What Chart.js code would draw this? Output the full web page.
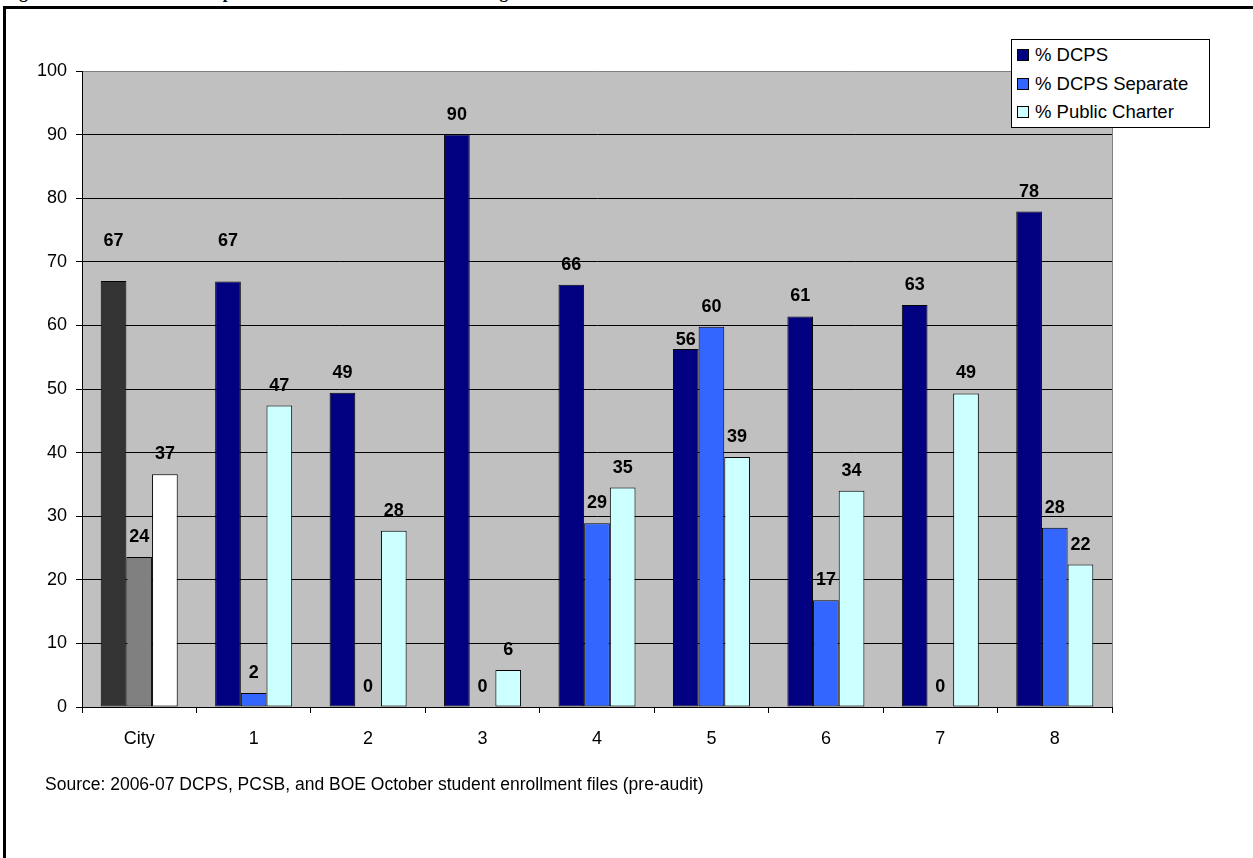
<!DOCTYPE html>
<html>
<head>
<meta charset="utf-8">
<title>Ward of Residence</title>
<script src="https://cdn.jsdelivr.net/npm/chart.js@4.4.1/dist/chart.umd.min.js"></script>
<style>
    body { margin: 0; background: #fff; width: 1253px; height: 858px; overflow: hidden; position: relative; }
    .title {
        position: absolute; left: 3px; top: -17px; white-space: nowrap;
        font: bold 17px "Liberation Serif", "Times New Roman", serif; letter-spacing: 0.6px;
    }
    .frame {
        position: absolute; left: 3px; top: 6px; width: 1400px; height: 1000px;
        border-left: 3px solid #000; border-top: 3px solid #000;
    }
    .chart-box { position: absolute; left: 0; top: 0; width: 1253px; height: 858px; }
    .legend {
        position: absolute; left: 1011px; top: 39px; width: 197px; height: 86px;
        border: 1px solid #000; background: #fff; padding-top: 1px;
        font: 18.5px "Liberation Sans", Arial, sans-serif;
    }
    .legend div { height: 28.5px; line-height: 28.5px; white-space: nowrap; }
    .legend span {
        display: inline-block; width: 10px; height: 10px; border: 1px solid #000;
        margin: 0 6px 0 5px; vertical-align: 0px;
    }
    .source {
        position: absolute; left: 45px; top: 774px;
        font: 17.5px "Liberation Sans", Arial, sans-serif;
    }
</style>
</head>
<body>
<div class="title">Figure 11: Share of Public Special Education Students Attending School in Their Ward of Residence, 2006-07</div>
<div class="frame"></div>
<div class="chart-box"><canvas id="myChart" width="1253" height="858"></canvas></div>
<div class="legend" id="legend"></div>
<div class="source">Source: 2006-07 DCPS, PCSB, and BOE October student enrollment files (pre-audit)</div>
<script>
    // data
    const wards = ["City", "1", "2", "3", "4", "5", "6", "7", "8"];
    const seriesNames = ["% DCPS", "% DCPS Separate", "% Public Charter"];
    const dcps = [67, 66.9, 49.4, 90, 66.4, 56.3, 61.4, 63.2, 77.9];
    const dcpsSeparate = [23.6, 2.2, 0, 0, 28.9, 59.8, 16.8, 0, 28.2];
    const publicCharter = [36.6, 47.4, 27.7, 5.8, 34.5, 39.3, 34.0, 49.3, 22.4];
    const yTicks = [0, 10, 20, 30, 40, 50, 60, 70, 80, 90, 100];

    // colours (City group is drawn in greys)
    const seriesColors = ["#000080", "#3366FF", "#CCFFFF"];
    const cityColors = ["#333333", "#808080", "#FFFFFF"];

    // label nudges where the original labels sit off their usual spot
    const labelNudge = { "0-0": -20, "0-1": -20, "0-5": 11 };

    function colorsFor(i) {
        return wards.map((w, j) => j === 0 ? cityColors[i] : seriesColors[i]);
    }

    const plotBg = {
        id: "plotBg",
        beforeDraw(chart) {
            const {ctx, chartArea: a} = chart;
            ctx.save();
            ctx.fillStyle = "#C0C0C0";
            ctx.fillRect(a.left, a.top, a.right - a.left, a.bottom - a.top);
            ctx.strokeStyle = "#808080";
            ctx.lineWidth = 1;
            ctx.beginPath();
            ctx.moveTo(a.right + 0.5, a.top);
            ctx.lineTo(a.right + 0.5, a.bottom);
            ctx.stroke();
            ctx.restore();
        }
    };

    const valueLabels = {
        id: "valueLabels",
        afterDatasetsDraw(chart) {
            const ctx = chart.ctx;
            ctx.save();
            ctx.font = "bold 18px 'Liberation Sans', Arial, sans-serif";
            ctx.fillStyle = "#000";
            ctx.textAlign = "center";
            ctx.textBaseline = "middle";
            chart.data.datasets.forEach((ds, i) => {
                chart.getDatasetMeta(i).data.forEach((bar, j) => {
                    const nudge = labelNudge[i + "-" + j] || 0;
                    ctx.fillText(Math.round(ds.data[j]), bar.x, bar.y - 20 + nudge);
                });
            });
            ctx.restore();
        }
    };

    const datasets = [dcps, dcpsSeparate, publicCharter].map((values, i) => ({
        label: seriesNames[i],
        data: values,
        backgroundColor: colorsFor(i),
        borderColor: "#000",
        borderWidth: 1,
        borderSkipped: false,
        categoryPercentage: 0.673,
        barPercentage: 1.0
    }));

    // legend
    document.getElementById("legend").innerHTML = seriesNames
        .map((name, i) => `<div><span style="background:${seriesColors[i]}"></span>${name}</div>`)
        .join("");

    const ctx = document.getElementById("myChart").getContext("2d");
    new Chart(ctx, {
        type: "bar",
        data: { labels: wards, datasets: datasets },
        plugins: [plotBg, valueLabels],
        options: {
            responsive: false,
            animation: false,
            layout: { padding: { left: 0, right: 141, top: 71, bottom: 101 } },
            plugins: { legend: { display: false }, tooltip: { enabled: false } },
            scales: {
                x: {
                    grid: { offset: true, drawOnChartArea: false, color: "#000", tickLength: 6 },
                    border: { color: "#000" },
                    ticks: { color: "#000", padding: 15, font: { family: "'Liberation Sans', Arial", size: 18 } },
                    afterFit(scale) { scale.height = 50; }
                },
                y: {
                    min: 0,
                    max: 100,
                    afterBuildTicks(scale) { scale.ticks = yTicks.map(v => ({ value: v })); },
                    grid: {
                        color: c => c.tick && c.tick.value === 100 ? "#808080" : "#000",
                        tickColor: "#000",
                        tickLength: 6
                    },
                    border: { color: "#000" },
                    ticks: { color: "#000", padding: 9, font: { family: "'Liberation Sans', Arial", size: 18 } },
                    afterFit(scale) { scale.width = 82; }
                }
            }
        }
    });
</script>
</body>
</html>
